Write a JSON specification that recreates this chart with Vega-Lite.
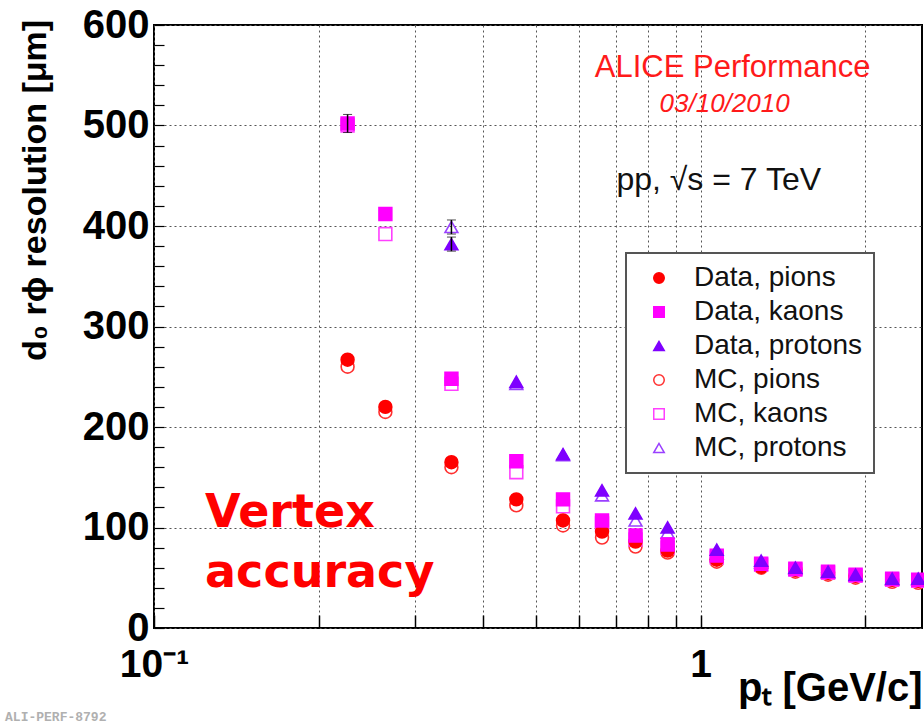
{
  "$schema": "https://vega.github.io/schema/vega-lite/v6.json",
  "width": 768,
  "height": 603,
  "autosize": {"type": "none"},
  "padding": {"left": 154, "top": 25, "right": 2, "bottom": 96},
  "background": "white",
  "config": {
    "view": {"stroke": "black", "strokeWidth": 2},
    "font": "Liberation Sans",
    "legend": {"strokeColor": "#555555", "strokeWidth": 2, "fillColor": "white", "padding": 11}
  },
  "datasets": {
    "resolution": [
      {"pt": 0.226, "res": 260, "series": "MC, pions", "err": 0},
      {"pt": 0.265, "res": 215, "series": "MC, pions", "err": 0},
      {"pt": 0.35, "res": 160, "series": "MC, pions", "err": 0},
      {"pt": 0.46, "res": 122, "series": "MC, pions", "err": 0},
      {"pt": 0.56, "res": 102, "series": "MC, pions", "err": 0},
      {"pt": 0.66, "res": 90, "series": "MC, pions", "err": 0},
      {"pt": 0.76, "res": 81, "series": "MC, pions", "err": 0},
      {"pt": 0.87, "res": 75, "series": "MC, pions", "err": 0},
      {"pt": 1.07, "res": 66, "series": "MC, pions", "err": 0},
      {"pt": 1.29, "res": 60, "series": "MC, pions", "err": 0},
      {"pt": 1.49, "res": 56, "series": "MC, pions", "err": 0},
      {"pt": 1.71, "res": 53, "series": "MC, pions", "err": 0},
      {"pt": 1.92, "res": 50, "series": "MC, pions", "err": 0},
      {"pt": 2.24, "res": 46, "series": "MC, pions", "err": 0},
      {"pt": 2.5, "res": 45, "series": "MC, pions", "err": 0},

      {"pt": 0.226, "res": 500, "series": "MC, kaons", "err": 0},
      {"pt": 0.265, "res": 392, "series": "MC, kaons", "err": 0},
      {"pt": 0.35, "res": 243, "series": "MC, kaons", "err": 0},
      {"pt": 0.46, "res": 155, "series": "MC, kaons", "err": 0},
      {"pt": 0.56, "res": 121, "series": "MC, kaons", "err": 0},
      {"pt": 0.66, "res": 104, "series": "MC, kaons", "err": 0},
      {"pt": 0.76, "res": 88, "series": "MC, kaons", "err": 0},
      {"pt": 0.87, "res": 80, "series": "MC, kaons", "err": 0},
      {"pt": 1.07, "res": 70, "series": "MC, kaons", "err": 0},
      {"pt": 1.29, "res": 63, "series": "MC, kaons", "err": 0},
      {"pt": 1.49, "res": 58, "series": "MC, kaons", "err": 0},
      {"pt": 1.71, "res": 55, "series": "MC, kaons", "err": 0},
      {"pt": 1.92, "res": 52, "series": "MC, kaons", "err": 0},
      {"pt": 2.24, "res": 48, "series": "MC, kaons", "err": 0},
      {"pt": 2.5, "res": 47, "series": "MC, kaons", "err": 0},

      {"pt": 0.35, "res": 399, "series": "MC, protons", "err": 7},
      {"pt": 0.46, "res": 243, "series": "MC, protons", "err": 0},
      {"pt": 0.56, "res": 172, "series": "MC, protons", "err": 0},
      {"pt": 0.66, "res": 132, "series": "MC, protons", "err": 0},
      {"pt": 0.76, "res": 107, "series": "MC, protons", "err": 0},
      {"pt": 0.87, "res": 95, "series": "MC, protons", "err": 0},
      {"pt": 1.07, "res": 74, "series": "MC, protons", "err": 0},
      {"pt": 1.29, "res": 65, "series": "MC, protons", "err": 0},
      {"pt": 1.49, "res": 59, "series": "MC, protons", "err": 0},
      {"pt": 1.71, "res": 55, "series": "MC, protons", "err": 0},
      {"pt": 1.92, "res": 52, "series": "MC, protons", "err": 0},
      {"pt": 2.24, "res": 48, "series": "MC, protons", "err": 0},
      {"pt": 2.5, "res": 48, "series": "MC, protons", "err": 0},

      {"pt": 0.226, "res": 267, "series": "Data, pions", "err": 0},
      {"pt": 0.265, "res": 220, "series": "Data, pions", "err": 0},
      {"pt": 0.35, "res": 165, "series": "Data, pions", "err": 0},
      {"pt": 0.46, "res": 128, "series": "Data, pions", "err": 0},
      {"pt": 0.56, "res": 107, "series": "Data, pions", "err": 0},
      {"pt": 0.66, "res": 96, "series": "Data, pions", "err": 0},
      {"pt": 0.76, "res": 86, "series": "Data, pions", "err": 0},
      {"pt": 0.87, "res": 77, "series": "Data, pions", "err": 0},
      {"pt": 1.07, "res": 68, "series": "Data, pions", "err": 0},
      {"pt": 1.29, "res": 61, "series": "Data, pions", "err": 0},
      {"pt": 1.49, "res": 58, "series": "Data, pions", "err": 0},
      {"pt": 1.71, "res": 55, "series": "Data, pions", "err": 0},
      {"pt": 1.92, "res": 52, "series": "Data, pions", "err": 0},
      {"pt": 2.24, "res": 48, "series": "Data, pions", "err": 0},
      {"pt": 2.5, "res": 47, "series": "Data, pions", "err": 0},

      {"pt": 0.226, "res": 502, "series": "Data, kaons", "err": 9},
      {"pt": 0.265, "res": 412, "series": "Data, kaons", "err": 0},
      {"pt": 0.35, "res": 248, "series": "Data, kaons", "err": 0},
      {"pt": 0.46, "res": 166, "series": "Data, kaons", "err": 0},
      {"pt": 0.56, "res": 128, "series": "Data, kaons", "err": 0},
      {"pt": 0.66, "res": 107, "series": "Data, kaons", "err": 0},
      {"pt": 0.76, "res": 92, "series": "Data, kaons", "err": 0},
      {"pt": 0.87, "res": 83, "series": "Data, kaons", "err": 0},
      {"pt": 1.07, "res": 72, "series": "Data, kaons", "err": 0},
      {"pt": 1.29, "res": 64, "series": "Data, kaons", "err": 0},
      {"pt": 1.49, "res": 59, "series": "Data, kaons", "err": 0},
      {"pt": 1.71, "res": 56, "series": "Data, kaons", "err": 0},
      {"pt": 1.92, "res": 53, "series": "Data, kaons", "err": 0},
      {"pt": 2.24, "res": 49, "series": "Data, kaons", "err": 0},
      {"pt": 2.5, "res": 48, "series": "Data, kaons", "err": 0},

      {"pt": 0.35, "res": 382, "series": "Data, protons", "err": 7},
      {"pt": 0.46, "res": 245, "series": "Data, protons", "err": 0},
      {"pt": 0.56, "res": 173, "series": "Data, protons", "err": 0},
      {"pt": 0.66, "res": 137, "series": "Data, protons", "err": 0},
      {"pt": 0.76, "res": 114, "series": "Data, protons", "err": 0},
      {"pt": 0.87, "res": 100, "series": "Data, protons", "err": 0},
      {"pt": 1.07, "res": 78, "series": "Data, protons", "err": 0},
      {"pt": 1.29, "res": 67, "series": "Data, protons", "err": 0},
      {"pt": 1.49, "res": 60, "series": "Data, protons", "err": 0},
      {"pt": 1.71, "res": 56, "series": "Data, protons", "err": 0},
      {"pt": 1.92, "res": 53, "series": "Data, protons", "err": 0},
      {"pt": 2.24, "res": 49, "series": "Data, protons", "err": 0},
      {"pt": 2.5, "res": 49, "series": "Data, protons", "err": 0}
    ]
  },
  "encoding": {
    "x": {
      "field": "pt", "type": "quantitative",
      "scale": {"type": "log", "domain": [0.1, 2.54], "nice": false},
      "axis": {
        "values": [0.1, 0.2, 0.3, 0.4, 0.5, 0.6, 0.7, 0.8, 0.9, 1, 2],
        "labelExpr": "datum.value == 0.1 ? '10⁻¹' : (datum.value == 1 ? '1' : '')",
        "labelFont": "Liberation Sans", "labelFontWeight": "bold", "labelFontSize": 39, "labelColor": "black",
        "labelFlush": false, "labelOverlap": false, "labelPadding": 30,
        "domain": false,
        "ticks": true, "tickSize": -13, "tickColor": "black", "tickWidth": 1.5,
        "grid": true, "gridDash": [2, 3], "gridColor": "#555555", "gridWidth": 1,
        "title": "pₜ [GeV/c]",
        "titleFont": "Liberation Sans", "titleFontWeight": "bold", "titleFontSize": 40, "titleColor": "black",
        "titleAnchor": "end", "titleAlign": "right", "titleBaseline": "alphabetic",
        "titleX": 768, "titleY": 72
      }
    },
    "y": {
      "field": "res", "type": "quantitative",
      "scale": {"domain": [0, 600], "nice": false},
      "axis": {
        "values": [0, 20, 40, 60, 80, 100, 120, 140, 160, 180, 200, 220, 240, 260, 280, 300, 320, 340, 360, 380, 400, 420, 440, 460, 480, 500, 520, 540, 560, 580, 600],
        "labelExpr": "datum.value % 100 == 0 ? datum.label : ''",
        "labelFont": "Liberation Sans", "labelFontWeight": "bold", "labelFontSize": 40, "labelColor": "black",
        "labelFlush": false, "labelOverlap": false, "labelPadding": 15,
        "domain": false,
        "ticks": true, "tickSize": -10, "tickColor": "black", "tickWidth": 1.2,
        "grid": true, "gridDash": [2, 3], "gridColor": "#555555", "gridWidth": 1,
        "gridOpacity": {"condition": {"test": "datum.value % 100 == 0", "value": 1}, "value": 0},
        "title": "d₀ rϕ resolution [μm]",
        "titleFont": "Liberation Sans", "titleFontWeight": "bold", "titleFontSize": 34, "titleColor": "black",
        "titleAngle": -90, "titleAlign": "center", "titleBaseline": "middle",
        "titleX": -119, "titleY": 165
      }
    }
  },
  "layer": [
    {
      "data": {"name": "resolution"},
      "mark": {"type": "point", "size": 165, "strokeWidth": 1.6, "opacity": 1},
      "encoding": {
        "shape": {
          "field": "series", "type": "nominal",
          "scale": {
            "domain": ["Data, pions", "Data, kaons", "Data, protons", "MC, pions", "MC, kaons", "MC, protons"],
            "range": ["circle", "square", "triangle-up", "circle", "square", "triangle-up"]
          },
          "legend": {
            "title": null, "orient": "none", "legendX": 472, "legendY": 228,
            "labelFont": "Liberation Sans", "labelFontSize": 28, "labelColor": "#111111",
            "symbolSize": 110, "symbolStrokeWidth": 1.5, "rowPadding": 6,
            "labelOffset": 21, "symbolOffset": 8, "labelLimit": 300
          }
        },
        "stroke": {
          "field": "series", "type": "nominal",
          "scale": {
            "domain": ["Data, pions", "Data, kaons", "Data, protons", "MC, pions", "MC, kaons", "MC, protons"],
            "range": ["#ff0000", "#ff00ff", "#7f00ff", "#ff3030", "#ff40ff", "#9a40ff"]
          },
          "legend": null
        },
        "fill": {
          "field": "series", "type": "nominal",
          "scale": {
            "domain": ["Data, pions", "Data, kaons", "Data, protons", "MC, pions", "MC, kaons", "MC, protons"],
            "range": ["#ff0000", "#ff00ff", "#7f00ff", "transparent", "transparent", "transparent"]
          },
          "legend": null
        }
      }
    },
    {
      "data": {"name": "resolution"},
      "transform": [{"filter": "datum.err > 0"}],
      "mark": {"type": "errorbar", "ticks": {"size": 9, "color": "black", "strokeWidth": 1.5}, "rule": {"color": "black", "strokeWidth": 1.5}},
      "encoding": {
        "yError": {"field": "err"}
      }
    },
    {
      "data": {"values": [{"pt": 1.144, "res": 557, "label": "ALICE Performance"}]},
      "mark": {"type": "text", "font": "Liberation Sans", "fontSize": 31, "color": "#ff1a1a", "align": "center", "baseline": "middle"},
      "encoding": {"text": {"field": "label"}}
    },
    {
      "data": {"values": [{"pt": 1.106, "res": 521, "label": "03/10/2010"}]},
      "mark": {"type": "text", "font": "Liberation Sans", "fontSize": 26, "fontStyle": "italic", "color": "#ff1a1a", "align": "center", "baseline": "middle"},
      "encoding": {"text": {"field": "label"}}
    },
    {
      "data": {"values": [{"pt": 1.079, "res": 446, "label": "pp, √s = 7 TeV"}]},
      "mark": {"type": "text", "font": "Liberation Sans", "fontSize": 32, "color": "#111111", "align": "center", "baseline": "middle"},
      "encoding": {"text": {"field": "label"}}
    },
    {
      "data": {"values": [{"pt": 0.124, "res": 100.5, "label": "Vertex"}, {"pt": 0.124, "res": 41, "label": "accuracy"}]},
      "mark": {"type": "text", "font": "DejaVu Sans", "fontWeight": "bold", "fontSize": 46, "color": "#ff0000", "align": "left", "baseline": "alphabetic"},
      "encoding": {"text": {"field": "label"}}
    },
    {
      "data": {"values": [{"pt": 0.0534, "res": -93, "label": "ALI-PERF-8792"}]},
      "mark": {"type": "text", "font": "Liberation Mono", "fontWeight": "bold", "fontSize": 13, "color": "#b0b0b0", "align": "left", "baseline": "alphabetic"},
      "encoding": {"text": {"field": "label"}}
    }
  ]
}
